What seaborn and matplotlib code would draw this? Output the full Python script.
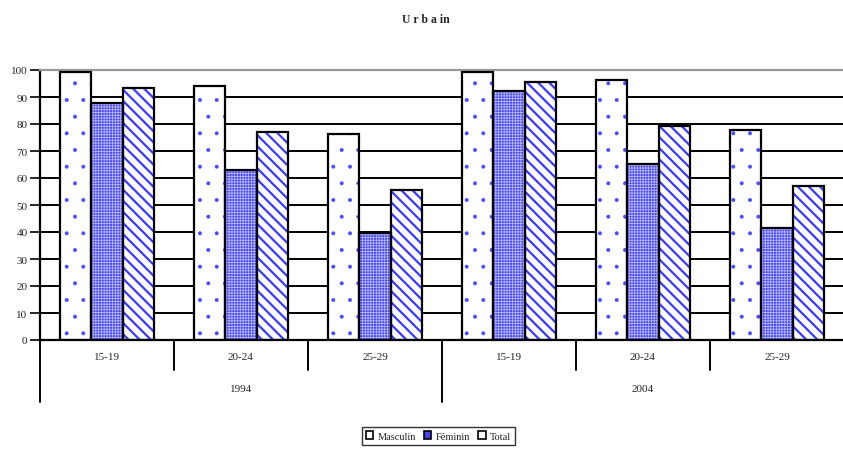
import matplotlib
matplotlib.use("Agg")
import matplotlib.pyplot as plt
import matplotlib.patches as mpatches
import seaborn as sns
import pandas as pd

# données
annees = ["1994", "2004"]
groupes_age = ["15-19", "20-24", "25-29"]
series = ["Masculin", "Féminin", "Total"]
masculin = [99.1, 94.0, 76.2, 99.1, 96.3, 77.8]
feminin = [87.6, 63.1, 39.6, 92.1, 65.2, 41.6]
total = [93.2, 77.2, 55.6, 95.6, 79.3, 57.0]

cats = [a + " " + g for a in annees for g in groupes_age]
df = pd.DataFrame({
    "cat": cats * 3,
    "serie": [s for s in series for _ in cats],
    "valeur": masculin + feminin + total,
})

sns.set_style("white")
plt.rcParams["font.family"] = ["Liberation Serif", "DejaVu Serif"]
plt.rcParams["hatch.linewidth"] = 1.6

styles = {
    "Masculin": dict(fc="white", hc="#4a4aff", hatch=".", hlw=0.4),
    "Féminin": dict(fc="#4646f0", hc="#b4b4ff", hatch="++++++", hlw=0.6),
    "Total": dict(fc="white", hc="#3a3aff", hatch="\\\\\\", hlw=1.6),
}

fig = plt.figure(figsize=(8.43, 4.52), dpi=100)
ax = fig.add_axes([40 / 843, (452 - 341) / 452, 804 / 843, 270 / 452])

sns.barplot(data=df, x="cat", y="valeur", hue="serie", order=cats,
            hue_order=series, width=0.7, ax=ax, legend=False)

# motifs + contours
for cont, s in zip(ax.containers, series):
    st = styles[s]
    for p in cont:
        p.set_facecolor(st["fc"])
        p.set_edgecolor(st["hc"])
        p.set_hatch(st["hatch"])
        if hasattr(p, "set_hatch_linewidth"):
            p.set_hatch_linewidth(st["hlw"])
        p.set_linewidth(0)
        ax.add_patch(mpatches.Rectangle(p.get_xy(), p.get_width(), p.get_height(),
                                        fill=False, ec="black", lw=1.6, zorder=3))

ax.set_ylim(0, 100)
ax.set_xlim(-0.5, 5.5)
ax.set_yticks(range(0, 101, 10))
ax.yaxis.grid(True, color="black", lw=1.4)
ax.set_axisbelow(True)
ax.tick_params(axis="y", direction="out", length=7, width=1.4, labelsize=8, pad=2, left=True)
ax.tick_params(axis="x", length=0, labelsize=8, pad=9)
ax.set_xticks(range(6))
ax.set_xticklabels(groupes_age * 2)
ax.set_xlabel("")
ax.set_ylabel("")
for sp in ["left", "bottom"]:
    ax.spines[sp].set_color("black")
    ax.spines[sp].set_linewidth(1.6)
ax.spines["top"].set_color("#999999")
ax.spines["top"].set_linewidth(1.6)
ax.spines["right"].set_visible(False)

# axe des catégories à deux niveaux
trans = ax.get_xaxis_transform()
for x in [0.5, 1.5, 3.5, 4.5]:
    ax.plot([x, x], [0, -0.11], color="black", lw=1.4, transform=trans, clip_on=False)
for x in [-0.5, 2.5, 5.5]:
    ax.plot([x, x], [0, -0.23], color="black", lw=1.4, transform=trans, clip_on=False)
for i, a in enumerate(annees):
    ax.text(1 + 3 * i, -0.18, a, transform=trans, ha="center", va="center", fontsize=8)

fig.text(0.505, 0.955, "U r b a in", ha="center", va="center", fontsize=8.5, fontweight="bold")

handles = [mpatches.Patch(facecolor=styles[s]["fc"], edgecolor="black", lw=1.2)
           for s in series]
leg = fig.legend(handles, series, loc="center", bbox_to_anchor=(0.52, 0.033), ncol=3,
                 fontsize=7.5, frameon=True, fancybox=False, edgecolor="black",
                 handlelength=0.7, handleheight=0.7, handletextpad=0.4,
                 columnspacing=0.8, borderpad=0.4)
leg.get_frame().set_linewidth(1)

fig.savefig("out.png", dpi=100)
